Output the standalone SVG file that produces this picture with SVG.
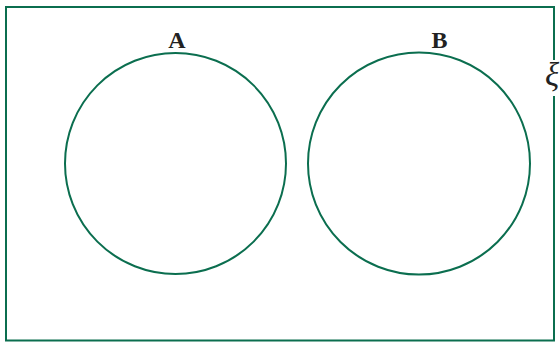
<svg xmlns="http://www.w3.org/2000/svg" width="560" height="342" viewBox="0 0 560 342">
<style>
.ln{fill:none;stroke:#0b6e4f;stroke-width:2}
.lbl{font-family:"Liberation Serif","Times New Roman",serif;font-weight:bold;font-size:24px;fill:#222}
.xi{font-family:"Liberation Serif","Times New Roman",serif;font-style:italic;font-size:33px;fill:#222}
</style>
<rect width="560" height="342" fill="#fff"/>
<g id="universe">
<path class="ln" d="M554 60 V7 H6 V340.5 H554 V96"/>
<text class="xi" x="552" y="86" text-anchor="middle">ξ</text>
</g>
<g id="setA">
<circle class="ln" cx="175.5" cy="163.5" r="110.5"/>
<text class="lbl" x="177" y="47.5" text-anchor="middle">A</text>
</g>
<g id="setB">
<circle class="ln" cx="419" cy="163.5" r="111"/>
<text class="lbl" x="439.5" y="47.5" text-anchor="middle">B</text>
</g>
<g id="connectors"/>
</svg>
